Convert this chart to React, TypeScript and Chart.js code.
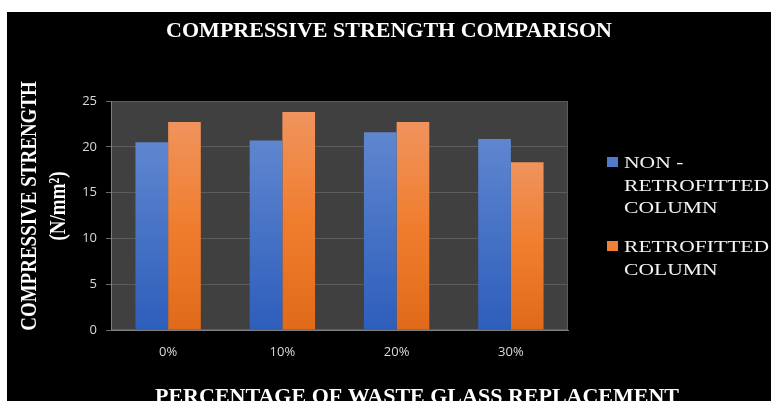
import React, { useEffect, useRef } from 'react';
import { Chart, registerables } from 'chart.js';

Chart.register(...registerables);

// ---- data ----
const categories = ['0%', '10%', '20%', '30%'];
const nonRetrofitted = [20.5, 20.7, 21.6, 20.85];
const retrofitted = [22.7, 23.8, 22.7, 18.3];
const yMin = 0;
const yMax = 25;
const yStep = 5;
const seriesNames = ['NON - RETROFITTED COLUMN', 'RETROFITTED COLUMN'];
const legendLines = [['NON -', 'RETROFITTED', 'COLUMN'], ['RETROFITTED', 'COLUMN']];
const chartTitle = 'COMPRESSIVE STRENGTH COMPARISON';
const xTitle = 'PERCENTAGE OF WASTE GLASS REPLACEMENT';
const yTitle = ['COMPRESSIVE STRENGTH', '(N/mm²)'];

// ---- styles ----
const blueStops = ['#5f86cf', '#4672c5', '#2e5ebc'];
const orangeStops = ['#f0935d', '#f07d2e', '#e06a1a'];
const legendColors = ['#4f7bcb', '#ee8038'];
const SERIF = '"Liberation Serif", "Times New Roman", serif';
const SANS = '"Open Sans", "Liberation Sans", sans-serif';

function gradientFill(stops: string[]) {
  return (ctx: any) => {
    const chart = ctx.chart;
    const { chartArea, scales } = chart;
    if (!chartArea || !scales || !scales.y) return stops[1];
    const v = ctx.raw;
    if (typeof v !== 'number') return stops[1];
    const top = scales.y.getPixelForValue(v);
    const bottom = scales.y.getPixelForValue(0);
    const g = chart.ctx.createLinearGradient(0, top, 0, bottom);
    g.addColorStop(0, stops[0]);
    g.addColorStop(0.5, stops[1]);
    g.addColorStop(1, stops[2]);
    return g;
  };
}

const plotBackground = {
  id: 'plotBackground',
  beforeDraw(chart: any) {
    const { ctx, chartArea: a, width, height } = chart;
    ctx.save();
    ctx.fillStyle = '#000000';
    ctx.fillRect(0, 0, width, height);
    ctx.fillStyle = '#404040';
    ctx.fillRect(a.left, a.top, a.right - a.left, a.bottom - a.top);
    ctx.strokeStyle = '#5c5c5c';
    ctx.lineWidth = 1;
    ctx.strokeRect(Math.round(a.left) + 0.5, Math.round(a.top) + 0.5, Math.round(a.right - a.left) - 1, Math.round(a.bottom - a.top) - 1);
    ctx.restore();
  },
};

const textOverlay = {
  id: 'textOverlay',
  afterDraw(chart: any) {
    const { ctx, chartArea: a } = chart;
    ctx.save();
    ctx.fillStyle = '#ffffff';

    // y-axis title (two rotated lines)
    ctx.font = `bold 19px ${SERIF}`;
    ctx.textAlign = 'center';
    ctx.textBaseline = 'middle';
    const yCenters = [a.left - 81, a.left - 52];
    yTitle.forEach((line, i) => {
      ctx.save();
      ctx.translate(yCenters[i], a.top + 105);
      ctx.scale(1.2, 1);
      ctx.rotate(-Math.PI / 2);
      ctx.fillText(line, 0, 0);
      ctx.restore();
    });

    // x-axis title
    ctx.font = `bold 22px ${SERIF}`;
    ctx.textAlign = 'center';
    ctx.textBaseline = 'alphabetic';
    ctx.fillText(xTitle, a.left + 306, a.bottom + 73);

    // legend
    const lx = a.right + 39;
    const itemTops = [a.top + 56, a.top + 140];
    ctx.textAlign = 'left';
    legendLines.forEach((lines, i) => {
      const t = itemTops[i];
      ctx.fillStyle = legendColors[i];
      ctx.fillRect(lx, t, 11, 10);
      ctx.fillStyle = '#f4f4f4';
      ctx.font = `17px ${SERIF}`;
      lines.forEach((ln, j) => {
        ctx.save();
        ctx.translate(lx + 17, t + 11 + j * 22.5);
        ctx.scale(1.27, 1);
        ctx.fillText(ln, 0, 0);
        ctx.restore();
      });
    });
    ctx.restore();
  },
};

export default function App() {
  const canvasRef = useRef<HTMLCanvasElement | null>(null);

  useEffect(() => {
    if (!canvasRef.current) return;
    const chart = new Chart(canvasRef.current, {
      type: 'bar',
      data: {
        labels: categories,
        datasets: [
          {
            label: seriesNames[0],
            data: nonRetrofitted,
            backgroundColor: gradientFill(blueStops),
            borderWidth: 0,
            categoryPercentage: 0.572,
            barPercentage: 1,
          },
          {
            label: seriesNames[1],
            data: retrofitted,
            backgroundColor: gradientFill(orangeStops),
            borderWidth: 0,
            categoryPercentage: 0.572,
            barPercentage: 1,
          },
        ],
      },
      options: {
        responsive: false,
        animation: false,
        devicePixelRatio: 1,
        layout: { padding: 0 },
        plugins: {
          legend: { display: false },
          tooltip: { enabled: false },
          title: {
            display: true,
            text: chartTitle,
            color: '#ffffff',
            font: { family: SERIF, size: 22, weight: 'bold', lineHeight: 1.2 },
            padding: { top: 6, bottom: 56.6 },
          },
        },
        scales: {
          x: {
            grid: { display: false, drawTicks: false },
            border: { display: true, color: '#808080', width: 1 },
            ticks: { color: '#d9d9d9', font: { family: SANS, size: 13 }, padding: 14 },
            afterFit: (s: any) => {
              s.height = 77;
            },
          },
          y: {
            min: yMin,
            max: yMax,
            ticks: { stepSize: yStep, color: '#d9d9d9', font: { family: SANS, size: 13 }, padding: 9 },
            grid: { color: '#5c5c5c', tickLength: 5, tickColor: '#6a6a6a' },
            border: { display: true, color: '#808080', width: 1 },
            afterFit: (s: any) => {
              s.width = 104;
            },
          },
          yRightSpace: {
            type: 'linear',
            position: 'right',
            display: true,
            grid: { display: false },
            border: { display: false },
            ticks: { display: false },
            afterFit: (s: any) => {
              s.width = 203;
            },
          },
        },
      } as any,
      plugins: [plotBackground, textOverlay],
    });
    return () => chart.destroy();
  }, []);

  return (
    <div style={{ position: 'fixed', left: 7, top: 12, width: 764, height: 395, background: '#000' }}>
      <canvas ref={canvasRef} width={764} height={395} style={{ display: 'block' }} />
    </div>
  );
}
